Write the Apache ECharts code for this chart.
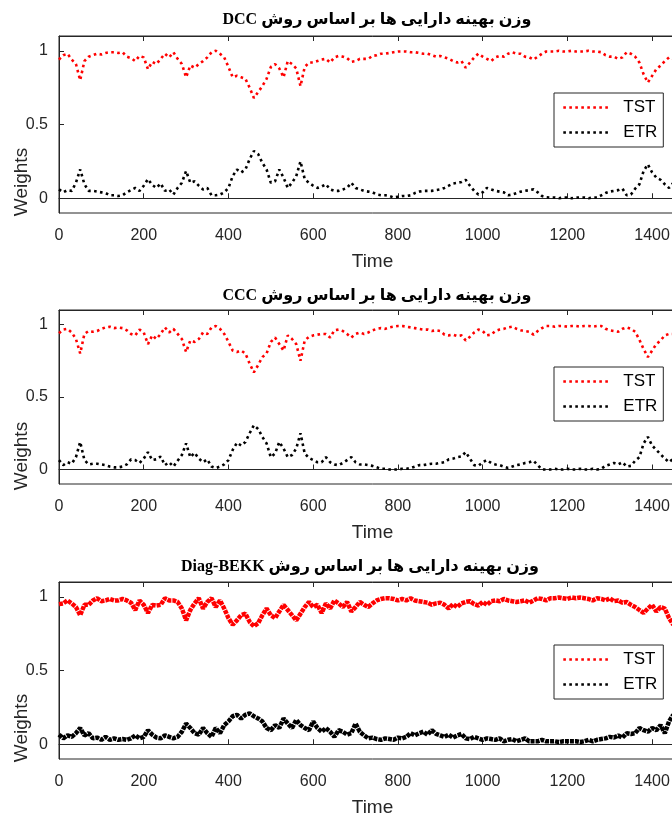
<!DOCTYPE html>
<html><head><meta charset="utf-8">
<script src="https://cdn.jsdelivr.net/npm/echarts@6/dist/echarts.min.js"></script>
<style>html,body{margin:0;padding:0;background:#fff;overflow:hidden}#c{width:700px;height:818px}</style>
</head><body><div id="c"></div>
<script>
// ---------- data ----------
const TIME_STEP = 10;           // sampling step of the values below (time units)
const xTickValues = [0, 200, 400, 600, 800, 1000, 1200, 1400];
const yTickValues = [0, 0.5, 1];
const xLabel = 'Time';
const yLabel = 'Weights';
const seriesNames = ['TST', 'ETR'];
const plotTitles = [
  'وزن بهینه دارایی ها بر اساس روش DCC',
  'وزن بهینه دارایی ها بر اساس روش CCC',
  'وزن بهینه دارایی ها بر اساس روش Diag-BEKK'
];

const DCC_TST = [
0.94,0.97,0.98,0.94,0.91,0.80,0.93,0.96,0.97,0.98,
0.975,0.985,0.99,0.99,0.985,0.99,0.96,0.95,0.93,0.965,
0.955,0.875,0.925,0.91,0.945,0.98,0.955,0.99,0.945,0.91,
0.82,0.90,0.885,0.91,0.93,0.955,0.99,1.0,0.98,0.955,
0.89,0.82,0.83,0.82,0.81,0.75,0.68,0.72,0.76,0.81,
0.89,0.91,0.88,0.82,0.93,0.91,0.88,0.76,0.89,0.92,
0.92,0.93,0.94,0.945,0.92,0.955,0.965,0.96,0.95,0.925,
0.93,0.945,0.945,0.945,0.965,0.97,0.98,0.98,0.985,0.99,
0.995,0.995,0.995,0.99,0.99,0.985,0.98,0.98,0.97,0.96,
0.965,0.955,0.945,0.93,0.92,0.93,0.885,0.92,0.955,0.98,
0.96,0.945,0.93,0.955,0.965,0.96,0.98,0.99,0.98,0.98,
0.96,0.955,0.94,0.96,0.98,0.995,0.995,0.995,1.0,0.995,
0.995,1.0,0.995,0.995,0.995,1.0,0.995,0.995,0.99,0.97,
0.96,0.96,0.945,0.955,0.99,0.98,0.96,0.92,0.84,0.785,
0.83,0.875,0.90,0.93,0.955,0.945];
const DCC_ETR = [
0.06,0.04,0.055,0.05,0.105,0.195,0.095,0.05,0.05,0.045,
0.04,0.035,0.02,0.02,0.015,0.02,0.04,0.055,0.07,0.05,
0.085,0.13,0.09,0.07,0.10,0.05,0.06,0.025,0.07,0.105,
0.185,0.105,0.115,0.085,0.06,0.07,0.02,0.02,0.025,0.04,
0.07,0.15,0.195,0.175,0.195,0.265,0.32,0.30,0.24,0.195,
0.105,0.115,0.195,0.14,0.07,0.105,0.15,0.25,0.13,0.105,
0.085,0.07,0.08,0.095,0.06,0.05,0.05,0.06,0.07,0.105,
0.07,0.06,0.05,0.045,0.04,0.025,0.02,0.02,0.015,0.005,
0.01,0.015,0.015,0.02,0.035,0.045,0.05,0.05,0.05,0.055,
0.06,0.07,0.085,0.10,0.105,0.11,0.125,0.085,0.05,0.025,
0.04,0.07,0.06,0.05,0.045,0.04,0.02,0.025,0.035,0.045,
0.05,0.055,0.06,0.04,0.015,0.007,0.005,0.005,0.0,0.005,
0.005,0.0,0.005,0.005,0.005,0.0,0.005,0.005,0.02,0.035,
0.045,0.05,0.055,0.065,0.02,0.025,0.065,0.095,0.185,0.23,
0.175,0.14,0.125,0.095,0.07,0.105];

const CCC_TST = [
0.94,0.965,0.97,0.945,0.90,0.80,0.935,0.955,0.95,0.955,
0.97,0.98,0.985,0.975,0.98,0.975,0.96,0.935,0.925,0.965,
0.945,0.865,0.925,0.90,0.935,0.98,0.945,0.97,0.935,0.90,
0.81,0.89,0.88,0.90,0.945,0.935,0.98,0.99,0.97,0.935,
0.88,0.82,0.81,0.82,0.80,0.73,0.67,0.72,0.775,0.80,
0.88,0.91,0.865,0.82,0.925,0.90,0.865,0.75,0.89,0.915,
0.925,0.93,0.935,0.935,0.91,0.96,0.965,0.955,0.935,0.91,
0.935,0.945,0.935,0.945,0.96,0.97,0.975,0.97,0.98,0.985,
0.99,0.99,0.985,0.98,0.975,0.97,0.965,0.965,0.955,0.96,
0.955,0.93,0.925,0.93,0.92,0.925,0.89,0.915,0.945,0.965,
0.955,0.925,0.93,0.955,0.965,0.97,0.98,0.985,0.97,0.96,
0.955,0.95,0.93,0.955,0.975,0.99,0.99,0.985,0.99,0.99,
0.985,0.99,0.99,0.985,0.99,0.99,0.985,0.99,0.99,0.97,
0.96,0.955,0.95,0.97,0.98,0.97,0.95,0.895,0.83,0.775,
0.82,0.865,0.89,0.925,0.935,0.935];
const CCC_ETR = [
0.065,0.03,0.05,0.04,0.085,0.19,0.065,0.035,0.04,0.04,
0.035,0.03,0.02,0.015,0.015,0.02,0.035,0.07,0.065,0.045,
0.075,0.12,0.065,0.07,0.09,0.03,0.05,0.02,0.06,0.10,
0.18,0.085,0.115,0.075,0.05,0.07,0.02,0.01,0.02,0.035,
0.065,0.135,0.185,0.165,0.19,0.25,0.305,0.28,0.225,0.18,
0.085,0.11,0.19,0.145,0.085,0.10,0.145,0.25,0.11,0.08,
0.065,0.05,0.05,0.085,0.05,0.035,0.03,0.045,0.065,0.085,
0.05,0.035,0.035,0.03,0.025,0.015,0.005,0.005,0.0,0.0,
0.0,0.005,0.005,0.01,0.02,0.03,0.03,0.035,0.04,0.04,
0.045,0.05,0.07,0.075,0.085,0.09,0.12,0.075,0.03,0.025,
0.05,0.065,0.045,0.035,0.03,0.02,0.01,0.02,0.03,0.035,
0.045,0.05,0.06,0.03,0.0,0.0,0.0,0.005,0.0,0.0,
0.005,0.0,0.0,0.005,0.0,0.0,0.005,0.0,0.005,0.025,
0.035,0.045,0.035,0.05,0.02,0.025,0.06,0.085,0.18,0.225,
0.165,0.135,0.105,0.075,0.05,0.075];

const BEKK_TST = [
0.95,0.955,0.975,0.955,0.93,0.875,0.945,0.945,0.975,0.99,
0.97,0.975,0.985,0.975,0.975,0.985,0.975,0.96,0.91,0.975,
0.945,0.89,0.945,0.94,0.945,0.99,0.975,0.975,0.965,0.92,
0.84,0.91,0.955,0.99,0.92,0.965,0.99,0.93,0.975,0.92,
0.855,0.81,0.84,0.875,0.885,0.83,0.80,0.82,0.875,0.92,
0.875,0.855,0.90,0.945,0.91,0.875,0.84,0.885,0.93,0.965,
0.93,0.945,0.89,0.955,0.92,0.975,0.955,0.93,0.965,0.90,
0.93,0.965,0.945,0.93,0.955,0.975,0.985,0.99,0.99,0.985,
0.975,0.985,0.975,0.99,0.975,0.97,0.965,0.96,0.945,0.955,
0.96,0.945,0.92,0.95,0.93,0.955,0.965,0.97,0.95,0.94,
0.965,0.945,0.97,0.975,0.97,0.985,0.975,0.97,0.965,0.97,
0.975,0.96,0.975,0.99,0.985,0.975,0.99,0.99,0.995,0.99,
0.985,0.995,0.99,0.995,0.99,0.985,0.975,0.99,0.985,0.975,
0.99,0.97,0.975,0.96,0.965,0.945,0.93,0.91,0.89,0.92,
0.945,0.90,0.93,0.92,0.855,0.81];
const BEKK_ETR = [
0.065,0.04,0.06,0.05,0.075,0.11,0.06,0.075,0.04,0.045,
0.03,0.05,0.03,0.04,0.03,0.035,0.03,0.04,0.06,0.04,
0.05,0.095,0.065,0.045,0.04,0.06,0.05,0.04,0.05,0.085,
0.14,0.11,0.075,0.065,0.11,0.075,0.05,0.11,0.075,0.13,
0.155,0.19,0.20,0.175,0.20,0.21,0.19,0.175,0.155,0.11,
0.095,0.13,0.11,0.175,0.14,0.11,0.165,0.13,0.11,0.095,
0.155,0.11,0.085,0.11,0.085,0.05,0.095,0.085,0.065,0.075,
0.14,0.085,0.06,0.04,0.045,0.035,0.03,0.04,0.035,0.03,
0.045,0.04,0.05,0.075,0.06,0.075,0.085,0.065,0.095,0.07,
0.06,0.05,0.065,0.045,0.06,0.07,0.04,0.035,0.05,0.04,
0.03,0.04,0.035,0.03,0.04,0.02,0.03,0.035,0.02,0.03,
0.04,0.02,0.02,0.02,0.03,0.02,0.02,0.02,0.015,0.02,
0.02,0.02,0.02,0.015,0.02,0.03,0.02,0.03,0.035,0.04,
0.05,0.045,0.06,0.045,0.075,0.07,0.075,0.11,0.095,0.085,
0.11,0.095,0.13,0.075,0.155,0.20];

// ---------- chart ----------
const panels = [
  {title: plotTitles[0], tst: DCC_TST, etr: DCC_ETR, top: 36, height: 177, titleTop: 7, titleX: 372, legendTop: 93, nameY: 182, w: 2.6, dash: [2.6, 3.4]},
  {title: plotTitles[1], tst: CCC_TST, etr: CCC_ETR, top: 310, height: 174, titleTop: 283, titleX: 372, legendTop: 367, nameY: 456, w: 2.6, dash: [2.6, 3.4]},
  {title: plotTitles[2], tst: BEKK_TST, etr: BEKK_ETR, top: 582, height: 177, titleTop: 554, titleX: 355, legendTop: 645, nameY: 728, w: 4.5, dash: [4, 1]}
];
const AX = '#262626';
const X_MAX = 1480;
const toPairs = arr => arr.map((v, i) => [i * TIME_STEP, v]);

const option = {
  animation: false,
  backgroundColor: '#fff',
  title: [], grid: [], xAxis: [], yAxis: [], legend: [], series: [], graphic: []
};

panels.forEach((p, k) => {
  option.title.push({
    text: '\u202B' + p.title + '\u202C',
    left: p.titleX, top: p.titleTop, textAlign: 'center',
    textStyle: {fontFamily: '"Liberation Serif", "DejaVu Sans", serif', fontWeight: 'bold', fontSize: 16, color: '#000'}
  });
  option.grid.push({left: 59, top: p.top, width: 627, height: p.height, show: true, borderColor: AX, borderWidth: 1, backgroundColor: '#fff'});
  // bottom x axis
  option.xAxis.push({
    gridIndex: k, type: 'value', min: 0, max: X_MAX, interval: 200, position: 'bottom',
    name: xLabel, nameLocation: 'middle', nameGap: 39,
    nameTextStyle: {fontFamily: '"Liberation Sans", Arial, sans-serif', fontSize: 19, color: AX},
    axisLine: {show: true, lineStyle: {color: AX, width: 1}},
    axisTick: {show: true, inside: true, length: 5, lineStyle: {color: AX}},
    axisLabel: {show: true, margin: 15, fontFamily: '"Liberation Sans", Arial, sans-serif', fontSize: 16, color: AX, showMaxLabel: false,
      formatter: v => (xTickValues.indexOf(v) >= 0 ? String(v) : '')},
    splitLine: {show: false}
  });
  // top x axis (ticks only)
  option.xAxis.push({
    gridIndex: k, type: 'value', min: 0, max: X_MAX, interval: 200, position: 'top',
    axisLine: {show: true, lineStyle: {color: AX, width: 1}},
    axisTick: {show: true, inside: true, length: 5, lineStyle: {color: AX}},
    axisLabel: {show: false}, splitLine: {show: false}
  });
  option.yAxis.push({
    gridIndex: k, type: 'value', min: -0.1, max: 1.1,
    axisLine: {show: true, lineStyle: {color: AX, width: 1}},
    axisTick: {show: true, inside: true, length: 5, lineStyle: {color: AX}, customValues: yTickValues},
    axisLabel: {show: true, margin: 11, fontFamily: '"Liberation Sans", Arial, sans-serif', fontSize: 16, color: AX,
      customValues: yTickValues, formatter: v => String(v)},
    splitLine: {show: false}
  });
  option.legend.push({
    left: 554, top: p.legendTop, orient: 'vertical', data: seriesNames,
    itemWidth: 48, itemHeight: 12, itemGap: 8, padding: [6, 6, 6, 8],
    borderColor: AX, borderWidth: 1, backgroundColor: '#fff', selectedMode: false,
    itemStyle: {opacity: 0},
    lineStyle: {width: 2.6, type: [2.6, 3.4]},
    textStyle: {fontFamily: '"Liberation Sans", Arial, sans-serif', fontSize: 17, color: '#000', padding: [0, 0, 0, 7]}
  });
  const mk = (name, arr, color) => ({
    type: 'line', name, xAxisIndex: 2 * k, yAxisIndex: k, data: toPairs(arr),
    symbol: 'none', showSymbol: false, silent: true, clip: true,
    lineStyle: {color, width: p.w, type: p.dash, cap: 'butt'},
    itemStyle: {color}
  });
  option.series.push(mk(seriesNames[0], p.tst, '#ff0000'));
  option.series.push(mk(seriesNames[1], p.etr, '#000000'));
  option.graphic.push({
    type: 'text', x: 22, y: p.nameY, rotation: Math.PI / 2,
    style: {text: yLabel, fontFamily: '"Liberation Sans", Arial, sans-serif', fontSize: 19, fill: AX, align: 'center', verticalAlign: 'middle'}
  });
});

const chart = echarts.init(document.getElementById('c'), null, {renderer: 'canvas'});
chart.setOption(option);
</script>
</body></html>
